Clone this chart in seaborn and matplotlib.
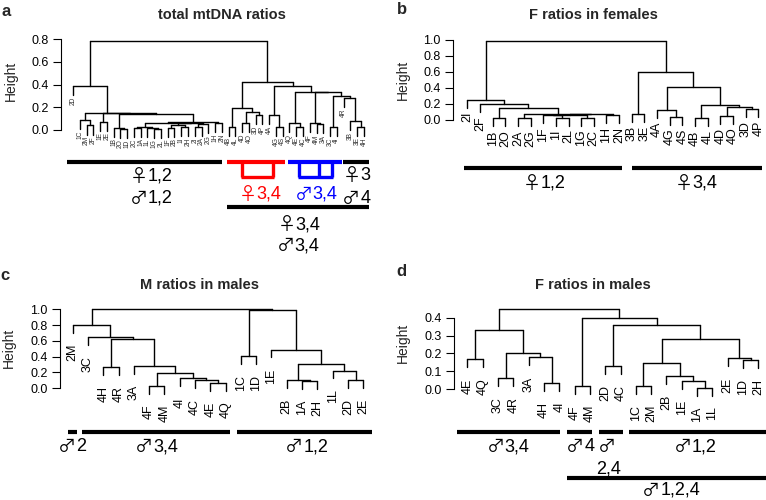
import numpy as np
import pandas as pd
import matplotlib
matplotlib.use("Agg")
import matplotlib.pyplot as plt
import seaborn as sns

# ---------------- data ----------------
# panel a: total mtDNA ratios (leaf order as drawn)
a_leaves = ["2D", "1C", "2M", "2F", "1E", "2E", "1B", "2O", "1D", "2C", "1A", "1L",
            "1G", "2L", "1F", "2B", "1I", "2H", "2I", "2A", "2G", "1H", "2N",
            "4B", "4L", "4D", "4O", "3D", "4P", "4A", "4G", "4S",
            "4Q", "4E", "4C", "4F", "4M", "3A", "3C", "4I",
            "4R", "3B", "3E", "4H"]
# merges: (child_a, child_b, height); ids >= n refer to earlier merges
a_merges = [(2, 3, 0.04), (1, 44, 0.088), (4, 5, 0.073), (7, 8, 0.01), (6, 47, 0.02),
            (9, 10, 0.02), (12, 13, 0.01), (11, 50, 0.02), (49, 51, 0.03),
            (14, 15, 0.02), (16, 17, 0.03), (53, 54, 0.04), (18, 19, 0.03),
            (56, 20, 0.05), (55, 57, 0.06), (52, 58, 0.065), (21, 22, 0.06),
            (59, 60, 0.07), (48, 61, 0.145), (46, 62, 0.146), (45, 63, 0.147),
            (0, 64, 0.39),
            (23, 24, 0.03), (25, 26, 0.06), (27, 28, 0.13), (67, 68, 0.16),
            (66, 69, 0.19), (30, 31, 0.03), (29, 71, 0.13), (33, 34, 0.03),
            (32, 73, 0.06), (36, 37, 0.05), (35, 75, 0.06), (38, 39, 0.03),
            (42, 43, 0.03), (41, 78, 0.08), (40, 79, 0.28), (77, 80, 0.30),
            (76, 81, 0.33), (74, 82, 0.335), (72, 83, 0.39), (70, 84, 0.42),
            (65, 85, 0.785)]

# panel b: F ratios in females
b_leaves = ["2I", "2F", "1B", "2O", "2A", "2G", "1F", "1I", "2L", "1G", "2C", "1H",
            "2N", "3B", "3E", "4A", "4G", "4S", "4B", "4L", "4D", "4O", "3D", "4P"]
b_merges = [(2, 3, 0.02), (4, 5, 0.02), (7, 8, 0.03), (9, 10, 0.03), (11, 12, 0.06),
            (6, 26, 0.06), (29, 27, 0.065), (30, 28, 0.07), (25, 31, 0.08),
            (24, 32, 0.146), (1, 33, 0.20), (0, 34, 0.25),
            (13, 14, 0.08), (16, 17, 0.04), (15, 37, 0.125), (18, 19, 0.02),
            (20, 21, 0.055), (22, 23, 0.14), (40, 41, 0.16), (39, 42, 0.19),
            (38, 43, 0.41), (36, 44, 0.60), (35, 45, 0.99)]

# panel c: M ratios in males
c_leaves = ["2M", "3C", "4H", "4R", "3A", "4F", "4M", "4I", "4C", "4E", "4Q",
            "1C", "1D", "1E", "2B", "1A", "2H", "1L", "2D", "2E"]
c_merges = [(9, 10, 0.07), (8, 20, 0.10), (7, 21, 0.125), (5, 6, 0.03),
            (23, 22, 0.19), (4, 24, 0.285), (2, 3, 0.274), (26, 25, 0.62),
            (1, 27, 0.645), (0, 28, 0.80),
            (11, 12, 0.41), (15, 16, 0.095), (14, 31, 0.105), (18, 19, 0.105),
            (17, 33, 0.225), (32, 34, 0.31), (13, 35, 0.49), (30, 36, 0.985),
            (29, 37, 1.0)]

# panel d: F ratios in males
d_leaves = ["4E", "4Q", "3C", "4R", "3A", "4H", "4I", "4F", "4M", "2D", "4C",
            "1C", "2M", "2B", "1E", "1A", "1L", "2E", "1D", "2H"]
d_merges = [(0, 1, 0.167), (2, 3, 0.061), (5, 6, 0.037), (4, 22, 0.179),
            (21, 23, 0.20), (20, 24, 0.331),
            (7, 8, 0.019), (9, 10, 0.13), (11, 12, 0.019), (15, 16, 0.01),
            (14, 29, 0.048), (13, 30, 0.074), (28, 31, 0.145), (18, 19, 0.164),
            (17, 33, 0.173), (32, 34, 0.279), (27, 35, 0.359), (26, 36, 0.40),
            (25, 37, 0.45)]

titles = ["total mtDNA ratios", "F ratios in females", "M ratios in males", "F ratios in males"]
panel_letters = ["a", "b", "c", "d"]
a_ticks = [0.0, 0.2, 0.4, 0.6, 0.8]
b_ticks = [0.0, 0.2, 0.4, 0.6, 0.8, 1.0]
c_ticks = [0.0, 0.2, 0.4, 0.6, 0.8, 1.0]
d_ticks = [0.0, 0.1, 0.2, 0.3, 0.4]

a_groups = ["\u26401,2", "\u26421,2", "\u26403,4", "\u26423,4", "\u26403", "\u26424",
            "\u26403,4", "\u26423,4"]
b_groups = ["\u26401,2", "\u26403,4"]
c_groups = ["\u26422", "\u26423,4", "\u26421,2"]
d_groups = ["\u26423,4", "\u26424", "\u2642", "2,4", "\u26421,2", "\u26421,2,4"]

# ---------------- drawing ----------------
sns.set_theme(style="white")
plt.rcParams['font.family'] = ['Liberation Sans', 'DejaVu Sans']

W, H = 766, 500
fig = plt.figure(figsize=(W / 100, H / 100), dpi=100)
fig.patch.set_facecolor("white")


def px_rect(l, t, r, b):
    return [l / W, 1 - b / H, (r - l) / W, (b - t) / H]


def dendro_segments(n, merges, hang):
    xs = [float(i) for i in range(n)]
    hs = [None] * n
    for a, b, h in merges:
        xs.append((xs[a] + xs[b]) / 2)
        hs.append(h)
    rows = []
    leaf_bottom = {}
    sid = 0
    for a, b, h in merges:
        rows += [(sid, xs[a], h), (sid, xs[b], h)]
        sid += 1
        for c in (a, b):
            if c < n:
                bot = h - hang
                leaf_bottom[c] = bot
            else:
                bot = hs[c]
            rows += [(sid, xs[c], h), (sid, xs[c], bot)]
            sid += 1
    df = pd.DataFrame(rows, columns=["seg", "x", "y"])
    return df, leaf_bottom


def panel(leaves, merges, ticks, hang, sx, x0, dx, y0, ky, right, top, bottom,
          lab_fs, lab_gap, lab_color="black"):
    ax = fig.add_axes(px_rect(sx, top, right, bottom))
    ax.set_facecolor("none")
    n = len(leaves)
    df, leaf_bottom = dendro_segments(n, merges, hang)
    sns.lineplot(data=df, x="x", y="y", units="seg", estimator=None, sort=False,
                 color="black", linewidth=1.0, ax=ax, legend=False)
    ax.set_xlim((sx - x0) / dx, (right - x0) / dx)
    ax.set_ylim((y0 - bottom) / ky, (y0 - top) / ky)
    for i, lab in enumerate(leaves):
        ax.text(i, leaf_bottom[i] - lab_gap / ky, lab, rotation=90, ha="center",
                va="top", fontsize=lab_fs, color=lab_color)
    ax.set_xlabel("")
    ax.set_ylabel("")
    ax.set_xticks([])
    ax.set_yticks(ticks)
    ax.set_yticklabels([f"{t:.1f}" for t in ticks])
    ax.tick_params(axis="y", left=True, length=5.5, width=0.8, pad=3.5,
                   labelsize=9, color="black", labelcolor="black")
    for s in ("top", "right", "bottom"):
        ax.spines[s].set_visible(False)
    ax.spines["left"].set_bounds(ticks[0], ticks[-1])
    ax.spines["left"].set_color("black")
    ax.spines["left"].set_linewidth(0.8)
    return ax


panel(a_leaves, a_merges, a_ticks, 0.08, 61, 73, 6.765, 130, 113.75, 375, 30, 145,
      4.8, 1.5, "#333333")
panel(b_leaves, b_merges, b_ticks, 0.10, 453.3, 467.3, 12.65, 120, 80, 765, 30, 140,
      9, 4)
panel(c_leaves, c_merges, c_ticks, 0.10, 60, 72.7, 15.29, 388.3, 79, 375, 300, 410,
      9, 11)
panel(d_leaves, d_merges, d_ticks, 0.045, 454, 467.3, 15.32, 389.3, 179.2, 765, 300, 410,
      9, 11)

# overlay in pixel coordinates for titles, labels and group bars
ov = fig.add_axes([0, 0, 1, 1])
ov.set_xlim(0, W)
ov.set_ylim(H, 0)
ov.axis("off")
ov.set_facecolor("none")

title_pos = [(222, 15), (593, 15), (200, 285), (593, 285)]
letter_pos = [(6, 11), (402, 9), (5, 275), (401, 272)]
height_pos = [(11, 81), (403, 80), (9, 348), (403, 343)]
for t, (x, y) in zip(titles, title_pos):
    ov.text(x, y, t, ha="center", va="center", fontsize=10.5, fontweight="bold")
for t, (x, y) in zip(panel_letters, letter_pos):
    ov.text(x, y, t, ha="center", va="center", fontsize=12, fontweight="bold")
for (x, y) in height_pos:
    ov.text(x, y, "Height", ha="center", va="center", fontsize=10, rotation=90)

BAR = 3.0
GFS = 13
renderer = fig.canvas.get_renderer()


def hbar(x1, x2, y, color="black", lw=BAR):
    ov.plot([x1, x2], [y, y], color=color, lw=lw, solid_capstyle="butt")


def bracket(x1, x2, legs, color):
    hbar(x1, x2, 162, color)
    for lx in legs:
        ov.plot([lx, lx], [162, 177], color=color, lw=2.4, solid_capstyle="butt")
    hbar(legs[0] - 1, legs[-1] + 1, 177, color, 2.4)


def gtext(x, y, s, color="black"):
    """Group label centred at (x, y): sex symbol from a thin-stroked font."""
    base = y + 6.3
    sym, rest = "", s
    if s and s[0] in "\u2640\u2642":
        sym, rest = s[0], s[1:]
    parts = []
    if sym:
        parts.append(ov.text(0, base + 1.0, sym, fontsize=GFS * 1.0, color=color,
                             va="baseline", ha="left",
                             family=["Noto Sans CJK JP", "DejaVu Sans"]))
    if rest:
        parts.append(ov.text(0, base, rest, fontsize=GFS, color=color,
                             va="baseline", ha="left"))
    widths = [p.get_window_extent(renderer).width for p in parts]
    gap = 0.3 if len(parts) == 2 else 0
    total = sum(widths) + gap
    cur = x - total / 2
    for p, w in zip(parts, widths):
        p.set_x(cur)
        cur += w + gap


# panel a
hbar(67, 222, 162)
bracket(227, 285, [242.3, 273.3], "#ff0000")
bracket(288, 342, [299, 319, 332.3], "#0000ff")
hbar(343, 369, 162)
hbar(227, 369, 207)
gtext(151, 174.5, a_groups[0])
gtext(151, 196.5, a_groups[1])
gtext(260, 192.5, a_groups[2], "#ff0000")
gtext(316, 192.5, a_groups[3], "#0000ff")
gtext(356.5, 173.5, a_groups[4])
gtext(356.5, 197, a_groups[5])
gtext(299, 223, a_groups[6])
gtext(298, 244, a_groups[7])

# panel b
hbar(464, 621.7, 167.7)
hbar(631.7, 761.7, 167.7)
gtext(544, 181.7, b_groups[0])
gtext(696, 181.7, b_groups[1])

# panel c
hbar(68.3, 77.3, 431.7)
hbar(81.7, 230, 431.7)
hbar(237.3, 371.7, 431.7)
gtext(71.7, 445, c_groups[0])
gtext(156.7, 445, c_groups[1])
gtext(306.7, 445, c_groups[2])

# panel d
hbar(457.3, 560, 431.7)
hbar(567.3, 592.3, 431.7)
hbar(599, 623.3, 431.7)
hbar(629.3, 766, 431.7)
hbar(567.3, 766, 478.3)
gtext(508, 445, d_groups[0])
gtext(580, 445, d_groups[1])
gtext(607, 445, d_groups[2])
gtext(609, 466.7, d_groups[3])
gtext(695, 445, d_groups[4])
gtext(671, 488.5, d_groups[5])

fig.savefig("out.png", dpi=100, facecolor="white")
